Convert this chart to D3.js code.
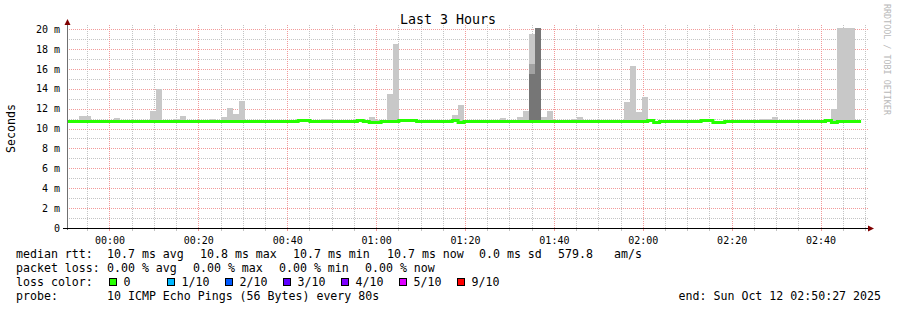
<!DOCTYPE html>
<html>
  <head>
    <title>Last 3 Hours</title>
    <script src="https://d3js.org/d3.v7.min.js"></script>
    <style>
      body { margin: 0; background: #fff; }
      text { font-family: "DejaVu Sans Mono", monospace; fill: #000; }
      .tick-label { font-size: 10px; }
      .legend { font-size: 11.6px; white-space: pre; }
      .grid-minor { stroke: #c4c4c4; stroke-dasharray: 1,1; shape-rendering: crispEdges; }
      .grid-major { stroke: #f29a9a; stroke-dasharray: 1,1; shape-rendering: crispEdges; }
    </style>
  </head>
  <body>
    <svg width="897" height="310"></svg>
    <script>
      // ---- data ----
      const endTime = new Date(Date.UTC(2025, 9, 12, 2, 50, 27));
      const startTime = new Date(endTime - 3 * 3600 * 1000);
      const stepSeconds = 80;

      // median rtt (ms), one value per 80 s step
      const median = [
        10.7, 10.7, 10.7, 10.7, 10.7, 10.7, 10.7, 10.7, 10.7, 10.7,
        10.7, 10.7, 10.7, 10.7, 10.7, 10.7, 10.7, 10.7, 10.7, 10.7,
        10.7, 10.7, 10.7, 10.7, 10.7, 10.7, 10.7, 10.7, 10.7, 10.7,
        10.7, 10.7, 10.7, 10.7, 10.7, 10.7, 10.7, 10.7, 10.7, 10.8,
        10.8, 10.7, 10.7, 10.7, 10.7, 10.7, 10.7, 10.7, 10.7, 10.8,
        10.7, 10.6, 10.6, 10.7, 10.7, 10.7, 10.8, 10.8, 10.8, 10.7,
        10.7, 10.7, 10.7, 10.7, 10.7, 10.8, 10.6, 10.7, 10.7, 10.7,
        10.7, 10.7, 10.7, 10.7, 10.7, 10.7, 10.7, 10.7, 10.7, 10.7,
        10.7, 10.7, 10.7, 10.7, 10.7, 10.7, 10.7, 10.7, 10.7, 10.7,
        10.7, 10.7, 10.7, 10.7, 10.7, 10.7, 10.7, 10.7, 10.8, 10.6,
        10.7, 10.7, 10.7, 10.7, 10.7, 10.7, 10.7, 10.8, 10.8, 10.6,
        10.6, 10.7, 10.7, 10.7, 10.7, 10.7, 10.7, 10.7, 10.7, 10.7,
        10.7, 10.7, 10.7, 10.7, 10.7, 10.7, 10.7, 10.7, 10.8, 10.6,
        10.7, 10.7, 10.7, 10.7
      ];

      // smoke: [step, highest ping ms] (steps not listed have no smoke above the median)
      const smokeHigh = [
        [2, 11.26], [3, 11.26], [8, 11.05], [9, 10.85], [14, 11.76], [15, 14.0],
        [18, 10.98], [19, 11.26], [20, 10.9], [23, 10.85], [24, 10.95],
        [26, 11.17], [27, 12.06], [28, 11.46], [29, 12.8],
        [33, 10.9], [34, 10.9], [35, 10.9], [39, 10.95], [40, 10.95], [41, 10.9],
        [43, 10.95], [44, 10.95], [51, 11.17], [52, 10.85], [53, 10.85],
        [54, 13.47], [55, 18.5], [60, 10.9], [61, 10.9], [63, 10.85],
        [65, 11.38], [66, 12.37], [72, 10.85], [73, 11.09], [75, 10.85],
        [76, 11.17], [77, 11.78], [78, 19.5], [80, 11.2], [81, 11.8],
        [84, 10.9], [85, 11.0], [86, 11.15], [90, 10.85], [91, 10.9], [92, 10.9],
        [94, 12.66], [95, 16.28], [96, 11.66], [97, 13.17],
        [103, 10.85], [106, 10.85], [117, 10.95], [118, 11.0], [119, 11.2],
        [129, 12.0], [130, 20.3], [131, 20.3], [132, 20.3]
      ];
      // denser smoke layers: [step, top ms]
      const smokeMid = [[78, 16.5]];
      const smokeDark = [[78, 15.5], [79, 20.3]];

      const yTicks = [0, 2, 4, 6, 8, 10, 12, 14, 16, 18, 20];
      const lossColors = [
        ["0", "#26ff00"], ["1/10", "#00b8ff"], ["2/10", "#0059ff"], ["3/10", "#5e00ff"],
        ["4/10", "#7e00ff"], ["5/10", "#dd00ff"], ["9/10", "#ff0000"]
      ];
      const rttLegend = [
        ["median rtt:", 16], ["10.7 ms avg", 107], ["10.8 ms max", 200], ["10.7 ms min", 293],
        ["10.7 ms now", 387], ["0.0 ms sd", 479], ["579.8", 558], ["am/s", 614]
      ];
      const lossLegend = [
        ["packet loss:", 16], ["0.00 % avg", 107], ["0.00 % max", 193],
        ["0.00 % min", 279], ["0.00 % now", 365]
      ];

      // ---- layout ----
      const svg = d3.select("svg");
      const plotLeft = 67, plotRight = 867, plotTop = 29, plotBottom = 228;

      const xScale = d3.scaleUtc().domain([startTime, endTime]).range([plotLeft, plotRight]);
      const yScale = d3.scaleLinear().domain([0, 20]).range([plotBottom, plotTop]);
      const stepTime = i => new Date(+startTime + i * stepSeconds * 1000);
      const px = v => Math.round(v) + 0.5;

      // grid
      const grid = svg.append("g");
      const minorTimes = d3.utcMinute.every(5).range(startTime, endTime);
      const isMajor = t => t.getUTCMinutes() % 20 === 0;
      grid.selectAll(".vminor").data(minorTimes.filter(t => !isMajor(t)))
        .enter().append("line").attr("class", "grid-minor")
          .attr("x1", d => px(xScale(d))).attr("x2", d => px(xScale(d)))
          .attr("y1", plotBottom).attr("y2", 25);
      grid.selectAll(".hminor").data(d3.range(1, 21, 2))
        .enter().append("line").attr("class", "grid-minor")
          .attr("x1", plotLeft).attr("x2", plotRight + 2)
          .attr("y1", d => px(yScale(d))).attr("y2", d => px(yScale(d)));
      grid.selectAll(".vmajor").data(minorTimes.filter(isMajor))
        .enter().append("line").attr("class", "grid-major")
          .attr("x1", d => px(xScale(d))).attr("x2", d => px(xScale(d)))
          .attr("y1", plotBottom).attr("y2", 25);
      grid.selectAll(".hmajor").data(yTicks.filter(d => d > 0))
        .enter().append("line").attr("class", "grid-major")
          .attr("x1", plotLeft).attr("x2", plotRight + 2)
          .attr("y1", d => px(yScale(d))).attr("y2", d => px(yScale(d)));

      // smoke
      svg.append("clipPath").attr("id", "plot")
        .append("rect").attr("x", plotLeft).attr("y", plotTop - 1)
          .attr("width", plotRight - plotLeft).attr("height", plotBottom - plotTop + 1);
      const smoke = svg.append("g").attr("clip-path", "url(#plot)");
      function drawSmoke(data, color) {
        smoke.selectAll(null).data(data).enter().append("rect")
          .attr("x", d => xScale(stepTime(d[0])))
          .attr("width", d => xScale(stepTime(d[0] + 1)) - xScale(stepTime(d[0])))
          .attr("y", d => yScale(d[1]))
          .attr("height", d => yScale(median[d[0]]) - yScale(d[1]))
          .attr("fill", color)
          .attr("shape-rendering", "crispEdges");
      }
      drawSmoke(smokeHigh, "#c8c8c8");
      drawSmoke(smokeMid, "#a2a2a2");
      drawSmoke(smokeDark, "#767676");

      // median line
      const medianPts = median.map((v, i) => [stepTime(i), v]);
      medianPts.push([stepTime(median.length), median[median.length - 1]]);
      svg.append("path")
        .datum(medianPts)
        .attr("fill", "none")
        .attr("stroke", "#26ff00")
        .attr("stroke-width", 3)
        .attr("d", d3.line().x(d => xScale(d[0])).y(d => yScale(d[1])).curve(d3.curveStepAfter));

      // axes
      const axes = svg.append("g").attr("shape-rendering", "crispEdges");
      axes.append("line").attr("x1", plotLeft + 0.5).attr("x2", plotLeft + 0.5)
        .attr("y1", plotBottom + 2).attr("y2", 24).attr("stroke", "#707070");
      axes.append("line").attr("x1", plotLeft - 4).attr("x2", plotRight + 3)
        .attr("y1", plotBottom + 0.5).attr("y2", plotBottom + 0.5).attr("stroke", "#000");
      axes.selectAll(".xt").data(minorTimes).enter().append("line")
        .attr("x1", d => px(xScale(d))).attr("x2", d => px(xScale(d)))
        .attr("y1", plotBottom + 1).attr("y2", plotBottom + 3)
        .attr("stroke", d => isMajor(d) ? "#f29a9a" : "#c4c4c4");
      svg.append("path").attr("d", `M${plotLeft - 2.5},25 L${plotLeft + 3.5},25 L${plotLeft + 0.5},19 Z`)
        .attr("fill", "#7f0000");
      svg.append("path").attr("d", `M${plotRight + 1},${plotBottom - 2.5} L${plotRight + 1},${plotBottom + 3.5} L${plotRight + 7},${plotBottom + 0.5} Z`)
        .attr("fill", "#7f0000");

      const yAxis = d3.axisLeft(yScale).tickValues(yTicks).tickSize(0).tickPadding(7)
        .tickFormat(d => d === 0 ? "0" : d + " m");
      svg.append("g").attr("transform", `translate(${plotLeft},0)`).call(yAxis)
        .attr("font-family", null).attr("font-size", null)
        .call(g => g.select(".domain").remove())
        .selectAll("text").attr("class", "tick-label");

      const xAxis = d3.axisBottom(xScale).ticks(d3.utcMinute.every(20)).tickSize(0).tickPadding(9)
        .tickFormat(d3.utcFormat("%H:%M"));
      svg.append("g").attr("transform", `translate(0,${plotBottom})`).call(xAxis)
        .attr("font-family", null).attr("font-size", null)
        .call(g => g.select(".domain").remove())
        .selectAll("text").attr("class", "tick-label");

      // titles
      svg.append("text").attr("x", 448).attr("y", 24).attr("text-anchor", "middle")
        .style("font-size", "13.3px").text("Last 3 Hours");
      svg.append("text").attr("transform", `translate(15,${(plotTop + plotBottom) / 2}) rotate(-90)`)
        .attr("text-anchor", "middle").style("font-size", "11.6px").text("Seconds");
      svg.append("text").attr("transform", "translate(884,4) rotate(90)")
        .style("font-size", "8.4px").style("fill", "#b8b8b8").text("RRDTOOL / TOBI OETIKER");

      // legend
      const legend = svg.append("g");
      legend.selectAll(".r1").data(rttLegend).enter().append("text").attr("class", "legend")
        .attr("x", d => d[1]).attr("y", 257.5).text(d => d[0]);
      legend.selectAll(".r2").data(lossLegend).enter().append("text").attr("class", "legend")
        .attr("x", d => d[1]).attr("y", 271.5).text(d => d[0]);
      legend.append("text").attr("class", "legend").attr("x", 16).attr("y", 285.5).text("loss color:");
      const lc = legend.selectAll(".lc").data(lossColors).enter().append("g")
        .attr("transform", (d, i) => `translate(${109 + i * 58},0)`);
      lc.append("rect").attr("x", 0.5).attr("y", 278.5).attr("width", 7).attr("height", 7)
        .attr("fill", d => d[1]).attr("stroke", "#000").attr("shape-rendering", "crispEdges");
      lc.append("text").attr("class", "legend").attr("x", 14.5).attr("y", 285.5).text(d => d[0]);
      legend.append("text").attr("class", "legend").attr("x", 16).attr("y", 299.5).text("probe:");
      legend.append("text").attr("class", "legend").attr("x", 107).attr("y", 299.5)
        .text("10 ICMP Echo Pings (56 Bytes) every 80s");
      legend.append("text").attr("class", "legend").attr("x", 881).attr("y", 299.5).attr("text-anchor", "end")
        .text("end: Sun Oct 12 02:50:27 2025");
    </script>
  </body>
</html>
